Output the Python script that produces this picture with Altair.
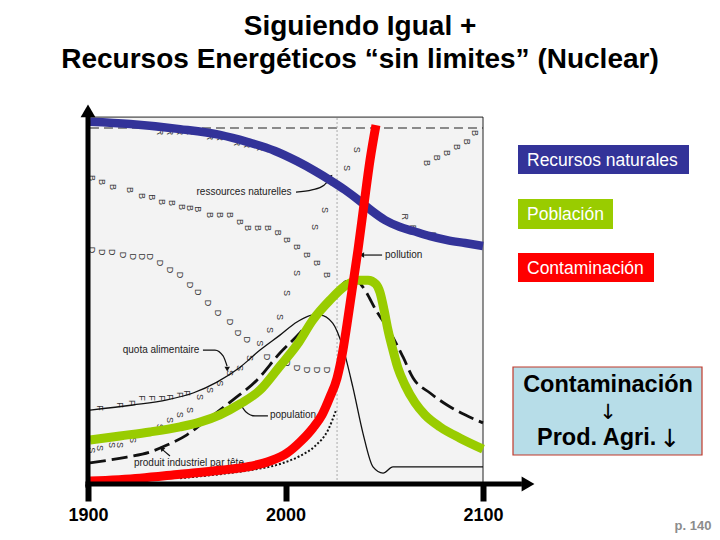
import altair as alt
import pandas as pd

FONT = "Liberation Sans"
FONT_ARROWS = "DejaVu Sans"

# ---------------- data (years on x, level on y: 0 = axis, 100 = top of scanned chart) -------------
res_year = [1901, 1921.3, 1946.6, 1966.8, 1980.5, 1994.7, 2005.8, 2014.9, 2022.5, 2030.1, 2037.7,
            2043.8, 2050.4, 2058.0, 2064.6, 2073.2, 2081.8, 2090.9, 2100]
res_val = [99.5, 98.9, 97.5, 95.9, 94.0, 91.5, 88.7, 86.0, 83.5, 80.8, 77.7,
           75.0, 72.5, 70.6, 69.5, 68.1, 67.0, 66.2, 65.4]

pol_year = [1901, 1926.3, 1946.6, 1966.8, 1980.5, 1992.2, 2000.8, 2007.3, 2013.9, 2018.5, 2022.5,
            2026.1, 2029.1, 2031.1, 2033.7, 2036.7, 2039.7, 2042.8, 2045.8]
pol_val = [0.8, 1.6, 2.7, 3.8, 4.7, 6.3, 8.5, 11.5, 15.4, 19.0, 23.9,
           29.1, 36.8, 43.7, 53.3, 64.3, 76.6, 89.0, 98.6]

pop_year = [1901, 1916.2, 1931.4, 1946.6, 1956.7, 1966.8, 1977.0, 1987.1, 1997.2, 2005.8, 2013.9,
            2022.5, 2030.1, 2036.7, 2041.8, 2045.8, 2047.8, 2049.9, 2051.9, 2054.4, 2056.9,
            2060.5, 2065.6, 2070.6, 2078.2, 2088.4, 2100]
pop_val = [12.1, 13.2, 14.3, 15.7, 17.0, 19.0, 22.0, 25.8, 32.4, 38.2, 45.1,
           50.5, 54.4, 56.0, 56.0, 54.9, 52.7, 47.8, 42.3, 36.8, 31.9,
           27.2, 22.3, 19.0, 15.7, 12.6, 9.6]

# scanned original curves (thin solid, long dashed, dotted)
food_year = [1901, 1922.8, 1940.0, 1953.2, 1965.3, 1977.0, 1987.1, 1997.2, 2005.8, 2013.9, 2017.5,
             2023.9, 2029.0, 2034.1, 2039.2, 2044.3, 2049.4, 2054.4, 2064.6, 2100]
food_val = [20.3, 21.7, 23.1, 25.0, 28.0, 32.1, 36.8, 40.9, 44.5, 46.4, 46.4,
            44.2, 37.6, 26.6, 14.0, 4.7, 3.0, 4.7, 4.7, 4.7]

ind_year = [1901, 1919.7, 1931.4, 1940.0, 1950.1, 1958.2, 1973.4, 1985.6, 1997.2, 2007.3, 2013.9,
            2024.1, 2031.1, 2035.2, 2039.2, 2046.3, 2052.9, 2059.5, 2064.6, 2073.2, 2081.8, 2090.9, 2100]
ind_val = [5.8, 7.4, 8.8, 10.7, 13.5, 16.8, 23.1, 28.6, 36.0, 41.5, 45.6,
           51.9, 55.8, 56.3, 54.1, 47.3, 41.8, 34.9, 29.1, 25.0, 21.7, 19.0, 16.8]

dot_year = [1946.6, 1966.8, 1982.0, 1997.2, 2007.3, 2014.9, 2021.5, 2025.6]
dot_val = [1.6, 2.7, 3.8, 5.5, 7.7, 10.4, 14.8, 20.3]

# printed letters of the scanned original
b_year = [1902.0, 1907.1, 1912.7, 1921.3, 1927.3, 1932.4, 1937.5, 1942.5, 1947.6, 1951.6, 1955.7, 1961.8,
          1966.8, 1971.9, 1977.0, 1981.0, 1986.1, 1991.1, 1996.2, 2000.8, 2005.8, 2010.9, 2015.9, 2021.0,
          2071.6, 2076.7, 2081.8, 2086.8, 2091.9, 2095.9]
b_val = [84.1, 83.0, 81.6, 80.8, 79.1, 78.8, 77.5, 77.2, 76.1, 75.8, 75.5, 73.9,
         73.9, 73.9, 72.0, 70.3, 70.3, 70.3, 69.0, 67.0, 65.1, 62.9, 60.7, 57.4,
         88.2, 89.6, 90.9, 92.6, 94.0, 96.4]
d_year = [1902.0, 1907.1, 1912.2, 1917.7, 1922.8, 1927.3, 1931.4, 1936.5, 1941.5, 1946.6, 1951.6, 1955.7,
          1960.8, 1965.8, 1971.9, 1975.9, 1980.5, 1990.6, 2000.8, 2005.8, 2010.9, 2015.9, 2021.0]
d_val = [64.3, 63.7, 63.7, 62.9, 62.4, 62.4, 62.4, 60.7, 58.8, 57.4, 54.7, 52.7,
         49.7, 47.0, 44.5, 41.5, 39.6, 34.9, 33.2, 31.9, 31.3, 31.3, 31.3]
s_year = [1902.0, 1906.1, 1912.2, 1916.2, 1922.8, 1929.9, 1936.5, 1941.5, 1946.6, 1951.6, 1956.7, 1961.8,
          1966.8, 1971.9, 1977.0, 1982.0, 1987.1, 1992.2, 1997.2, 2000.8, 2005.8, 2014.9, 2020.0, 2024.1,
          2031.1, 2036.2]
s_val = [9.3, 9.9, 10.7, 10.7, 12.1, 14.0, 15.7, 17.6, 19.0, 20.3, 23.9, 25.8,
         27.7, 30.5, 31.9, 34.6, 38.7, 42.3, 45.9, 52.5, 58.0, 70.6, 75.3, 82.7,
         86.8, 91.8]
f_year = [1906.1, 1916.2, 1922.3, 1927.3, 1932.4, 1937.5, 1941.5, 1946.6, 1950.1]
f_val = [20.9, 21.7, 22.3, 23.6, 23.6, 23.6, 23.9, 24.5, 25.0]
r_year = [1936.5, 1941.5, 1946.6, 1951.6, 1956.7, 1961.8, 1966.8, 1975.4, 1980.5, 1987.1, 1992.2,
          2060.5, 2064.6, 2074.7]
r_val = [96.7, 96.7, 96.7, 96.7, 96.7, 95.3, 95.1, 93.7, 93.1, 92.3, 91.8, 73.4, 70.3, 68.4]

# annotation labels of the original figure
note_text = ["ressources  naturelles", "quota  alimentaire", "population", "produit  industriel  par  tête"]
note_year = [1979.0, 1937.0, 2003.8, 1951.1]
note_val = [80.2, 36.8, 19.0, 5.8]

arrow_id = ["a", "a", "a", "a", "b", "b", "c", "c", "c", "c", "d", "d", "d", "d", "e", "e"]
arrow_year = [2005.3, 2013.4, 2019.5, 2022.5, 2048.9, 2039.8, 1958.2, 1964.3, 1968.4, 1970.4,
              1991.1, 1984.6, 1980.0, 1978.0, 1941.5, 1938.0]
arrow_val = [80.2, 80.8, 82.1, 83.8, 62.9, 62.9, 36.8, 36.8, 35.2, 32.4,
             18.7, 18.7, 19.8, 21.2, 7.7, 9.3]
head_year = [2022.7, 2039.0, 1970.5, 1977.6, 1937.6]
head_val = [84.3, 62.9, 31.8, 21.6, 9.6]
head_angle = [40, 270, 180, 320, 315]

tick_years = [1900, 2000, 2100]
title_lines = ["Siguiendo Igual +", "Recursos Energéticos “sin limites” (Nuclear)"]
box_labels = ["Recursos naturales", "Población", "Contaminación"]
note_box_lines = ["Contaminación", "Prod. Agri."]
down_arrow = "↓"
page_label = "p. 140"

# ---------------- scales -------------
xs = alt.Scale(domain=[1855.443, 2220.0], nice=False, zero=False)
ys = alt.Scale(domain=[0, 132.967], nice=False, zero=False)
x_axis = alt.Axis(values=tick_years, format="d", domain=False, grid=False, ticks=True,
                  tickSize=17, tickWidth=6, tickColor="black", labelFont=FONT,
                  labelFontSize=18, labelFontWeight="bold", labelColor="black",
                  labelPadding=5, title=None, labelFlush=False, labelOverlap=False)


def X(f):
    return alt.X(f, type="quantitative", scale=xs, axis=x_axis)


def X2(f):
    return alt.X2(f)


def Y(f):
    return alt.Y(f, type="quantitative", scale=ys, axis=None)


def curve(years, vals):
    return pd.DataFrame({"year": years, "val": vals})


layers = []

# scanned figure background and frame
frame = pd.DataFrame({"x0": [1901], "x1": [2100], "y0": [0], "y1": [100.8]})
layers.append(alt.Chart(frame).mark_rect(color="#f3f3f3").encode(x=X("x0"), x2=X2("x1"), y=Y("y0"), y2=alt.Y2("y1")))
layers.append(alt.Chart(frame).mark_rule(color="#222", strokeWidth=1).encode(x=X("x0"), x2=X2("x1"), y=Y("y1")))
layers.append(alt.Chart(frame).mark_rule(color="#222", strokeWidth=1).encode(x=X("x1"), y=Y("y0"), y2=alt.Y2("y1")))
top_dash = pd.DataFrame({"x0": [1901], "x1": [2100], "y": [97.8]})
layers.append(alt.Chart(top_dash).mark_rule(color="#222", strokeWidth=1.2, strokeDash=[9, 5]).encode(
    x=X("x0"), x2=X2("x1"), y=Y("y")))
today = pd.DataFrame({"x": [2026.1], "y0": [0], "y1": [100.8]})
layers.append(alt.Chart(today).mark_rule(color="#aaaaaa", strokeWidth=1, strokeDash=[2, 2]).encode(
    x=X("x"), y=Y("y0"), y2=alt.Y2("y1")))

# letters
letters = pd.concat([
    pd.DataFrame({"year": b_year, "val": b_val, "ch": "B"}),
    pd.DataFrame({"year": d_year, "val": d_val, "ch": "D"}),
    pd.DataFrame({"year": s_year, "val": s_val, "ch": "S"}),
    pd.DataFrame({"year": f_year, "val": f_val, "ch": "F"}),
    pd.DataFrame({"year": r_year, "val": r_val, "ch": "R"}),
])
layers.append(alt.Chart(letters).mark_text(font=FONT, fontSize=9, color="#333", angle=90).encode(
    x=X("year"), y=Y("val"), text="ch:N"))

# thin original curves
layers.append(alt.Chart(curve(food_year, food_val)).mark_line(color="#111", strokeWidth=1.3, interpolate="monotone").encode(
    x=X("year"), y=Y("val")))
layers.append(alt.Chart(curve(ind_year, ind_val)).mark_line(color="#111", strokeWidth=2.8, strokeDash=[16, 6],
                                                          interpolate="monotone").encode(x=X("year"), y=Y("val")))
layers.append(alt.Chart(curve(dot_year, dot_val)).mark_line(color="#111", strokeWidth=2, strokeDash=[2, 2],
                                                          interpolate="monotone").encode(x=X("year"), y=Y("val")))

# annotation texts and arrows of the original
notes = pd.DataFrame({"t": note_text, "year": note_year, "val": note_val})
layers.append(alt.Chart(notes).mark_text(font=FONT, fontSize=10, color="#222").encode(
    x=X("year"), y=Y("val"), text="t:N"))
layers.append(alt.Chart(pd.DataFrame({"t": ["pollution"], "year": [2050.4], "val": [62.9]})).mark_text(
    font=FONT, fontSize=10, color="#222", align="left").encode(x=X("year"), y=Y("val"), text="t:N"))
arrows = pd.DataFrame({"id": arrow_id, "year": arrow_year, "val": arrow_val})
layers.append(alt.Chart(arrows).mark_line(color="#111", strokeWidth=1.2, interpolate="monotone").encode(
    x=X("year"), y=Y("val"), detail="id:N"))
heads = pd.DataFrame({"year": head_year, "val": head_val, "ang": head_angle})
layers.append(alt.Chart(heads).mark_point(shape="triangle", filled=True, color="#111", size=30, opacity=1).encode(
    x=X("year"), y=Y("val"), angle=alt.Angle("ang:Q", scale=None)))

# thick coloured overlay curves
layers.append(alt.Chart(curve(res_year, res_val)).mark_line(color="#333399", strokeWidth=8.5, interpolate="monotone").encode(
    x=X("year"), y=Y("val")))
layers.append(alt.Chart(curve(pop_year, pop_val)).mark_line(color="#99cc00", strokeWidth=9, interpolate="monotone").encode(
    x=X("year"), y=Y("val")))
layers.append(alt.Chart(curve(pol_year, pol_val)).mark_line(color="#ff0000", strokeWidth=9, interpolate="monotone").encode(
    x=X("year"), y=Y("val")))

# axis lines with arrows
axes = pd.DataFrame({"x0": [1900, 1898.7], "x1": [1900, 2119.7], "y0": [-1, 0], "y1": [100.8, 0]})
layers.append(alt.Chart(axes).mark_rule(color="black", strokeWidth=5).encode(
    x=X("x0"), x2=X2("x1"), y=Y("y0"), y2=alt.Y2("y1")))
axis_heads = pd.DataFrame({"year": [1900, 2122.8], "val": [102.5, 0], "shape": ["triangle-up", "triangle-right"]})
layers.append(alt.Chart(axis_heads).mark_point(filled=True, color="black", size=220, opacity=1).encode(
    x=X("year"), y=Y("val"), shape=alt.Shape("shape:N", scale=None)))

# title
one = pd.DataFrame({"k": [0]})
layers.append(alt.Chart(one).mark_text(font=FONT, fontSize=28, fontWeight="bold", color="black",
                                       align="center", baseline="alphabetic").encode(
    x=alt.value(360), y=alt.value(35), text=alt.value(title_lines[0])))
layers.append(alt.Chart(one).mark_text(font=FONT, fontSize=28, fontWeight="bold", color="black",
                                       align="center", baseline="alphabetic").encode(
    x=alt.value(360), y=alt.value(68), text=alt.value(title_lines[1])))

# right-side label boxes
for (x0, x1, y0, y1, col), lab in zip([(518, 689, 145, 174, "#333399"),
                                      (518, 613, 199, 229, "#99cc00"),
                                      (518, 654, 253, 282, "#ff0000")], box_labels):
    layers.append(alt.Chart(one).mark_rect(color=col).encode(
        x=alt.value(x0), x2=alt.value(x1), y=alt.value(y0), y2=alt.value(y1)))
    layers.append(alt.Chart(one).mark_text(font=FONT, fontSize=17.5, color="white", align="left",
                                           baseline="middle").encode(
        x=alt.value(527), y=alt.value((y0 + y1) / 2 + 1), text=alt.value(lab)))

layers.append(alt.Chart(one).mark_rect(color="#b7dde8", stroke="#c0392b", strokeWidth=1.2).encode(
    x=alt.value(513), x2=alt.value(702), y=alt.value(367), y2=alt.value(455)))
layers.append(alt.Chart(one).mark_text(font=FONT, fontSize=23.5, fontWeight="bold", color="black",
                                       align="center", baseline="alphabetic").encode(
    x=alt.value(608), y=alt.value(392), text=alt.value(note_box_lines[0])))
layers.append(alt.Chart(one).mark_text(font=FONT, fontSize=23.5, fontWeight="bold", color="black",
                                       align="left", baseline="alphabetic").encode(
    x=alt.value(537), y=alt.value(445), text=alt.value(note_box_lines[1])))
for ax, ab, fs in [(608, 419, 21), (670, 447, 25)]:
    layers.append(alt.Chart(one).mark_text(font=FONT_ARROWS, fontSize=fs, color="black",
                                           align="center", baseline="alphabetic").encode(
        x=alt.value(ax), y=alt.value(ab), text=alt.value(down_arrow)))

layers.append(alt.Chart(one).mark_text(font=FONT, fontSize=13, fontWeight="bold", color="#8c8c8c",
                                       align="center", baseline="alphabetic").encode(
    x=alt.value(693), y=alt.value(530), text=alt.value(page_label)))

chart = alt.layer(*layers).properties(
    width=720, height=484,
    padding={"left": 0, "top": 0, "right": 0, "bottom": 56},
    autosize=alt.AutoSizeParams(type="none"),
    background="white",
).configure_view(stroke=None)

chart.save("out.html", embed_options={"renderer": "svg", "actions": False})
